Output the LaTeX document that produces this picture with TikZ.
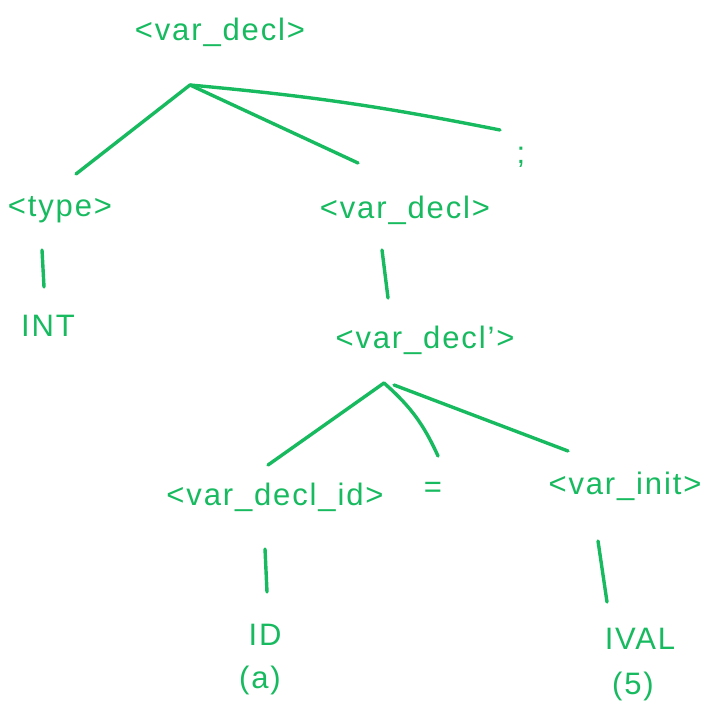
\documentclass[tikz,border=0pt]{standalone}
\usepackage{fontspec}
\setmainfont{Liberation Sans}[LetterSpace=6]
\definecolor{ink}{RGB}{24,186,96}
\begin{document}
\begin{tikzpicture}[x=1pt,y=-1pt,
  lbl/.style={text=ink,font=\fontsize{31}{34}\selectfont,inner sep=0pt,anchor=center},
  edge/.style={draw=ink,line width=3.4pt,line cap=round,line join=round}]
\useasboundingbox (0,0) rectangle (711,719);
% nodes
\node[lbl] (root) at (220,32) {<var\_decl>};
\node[lbl] (type) at (60,210) {<type>};
\node[lbl] (vd) at (405,210) {<var\_decl>};
\node[lbl] (semi) at (521,157) {;};
\node[lbl] (int) at (48,326) {INT};
\node[lbl] (vdp) at (425,340) {<var\_decl{\char"27}>};
\node[lbl] (vdid) at (275,497) {<var\_decl\_id>};
\node[lbl] (eq) at (433,490) {=};
\node[lbl] (vinit) at (625,486) {<var\_init>};
\node[lbl] (id) at (265,635) {ID};
\node[lbl] (a) at (260,680) {(a)};
\node[lbl] (ival) at (640,639) {IVAL};
\node[lbl] (five) at (633,686) {(5)};
% connector end points
\coordinate (j1) at (190,85);
\coordinate (typeT) at (76,174);
\coordinate (vdT) at (358,163);
\coordinate (semiT) at (500,130);
\coordinate (typeB) at (42,250);
\coordinate (intT) at (44,287);
\coordinate (vdB) at (382,250);
\coordinate (vdpT) at (388,298);
\coordinate (j2) at (384,383);
\coordinate (vdidT) at (268,465);
\coordinate (eqT) at (438,456);
\coordinate (vinitT) at (568,451);
\coordinate (vdidB) at (265,549);
\coordinate (idT) at (267,592);
\coordinate (vinitB) at (598,541);
\coordinate (ivalT) at (607,602);
% connectors
\draw[edge] (j1) -- (typeT);
\draw[edge] (j1) -- (vdT);
\draw[edge] (j1) to[bend left=3] (semiT);
\draw[edge] (typeB) -- (intT);
\draw[edge] (vdB) -- (vdpT);
\draw[edge] (j2) -- (vdidT);
\draw[edge] (j2) to[bend left=12] (eqT);
\draw[edge] (j2) ++(10,2) -- (vinitT);
\draw[edge] (vdidB) -- (idT);
\draw[edge] (vinitB) -- (ivalT);
\end{tikzpicture}
\end{document}
